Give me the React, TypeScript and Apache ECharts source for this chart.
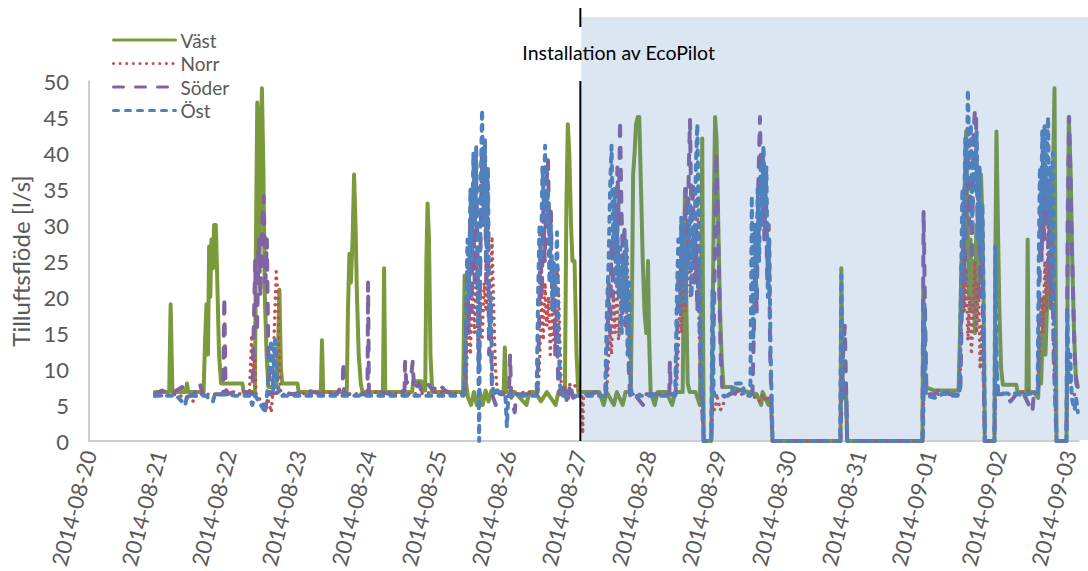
import React, { useEffect, useRef } from 'react';
import * as echarts from 'echarts';

// x values are hours since 2014-08-20 00:00
const dayLabels = [
  '2014-08-20', '2014-08-21', '2014-08-22', '2014-08-23', '2014-08-24',
  '2014-08-25', '2014-08-26', '2014-08-27', '2014-08-28', '2014-08-29',
  '2014-08-30', '2014-08-31', '2014-09-01', '2014-09-02', '2014-09-03',
];
const seriesNames = ['Väst', 'Norr', 'Söder', 'Öst'];
const INSTALL_HOUR = 168.5;
const X_MAX_HOUR = 339.5;
const annotationText = 'Installation av EcoPilot';
const yAxisTitle = 'Tilluftsflöde [l/s]';

const vast: [number, number][] = [
  [22.6,6.8],[27.5,6.8],[28,19],[28.6,6.8],[33.2,6.8],[33.6,8],[34,6.8],[39.3,6.8],[39.8,14],[40.3,19],[40.8,12],[41.2,27],[41.6,20],[42,28],[42.5,24],[42.9,30],[43.5,30],[44,22],[44.6,12],[45.3,8],[52.6,8],[53,6.8],
  [56.9,6.8],[57.3,30],[57.7,47],[58.1,44],[58.5,25],[58.9,40],[59.3,49],[59.8,38],[60.3,20],[60.9,12],[61.5,7.5],[64.2,7.5],[64.8,12],[65.3,21],[65.8,10],[66.3,8],[71.5,8],[71.9,6.8],
  [79.5,6.8],[79.9,14],[80.3,6.8],[88.4,6.8],[88.8,18],[89.3,26],[89.8,22],[90.4,28],[90.9,37],[91.4,30],[91.9,20],[92.5,12],[93.2,8],[93.8,6.8],[100.8,6.8],[101.2,24],[101.6,6.8],
  [110.8,6.8],[111.2,8.3],[114,8.3],[114.4,7],[115.3,7],[115.7,25],[116.1,33],[116.6,28],[117.1,12],[117.7,6.8],[123,6.8],[128.3,6.8],[128.8,23],[129.3,8],[130,6],[131,5],[132,6.8],[133,5],[134,6.8],[135,5],[136,7],[137,5.5],[138,7],[140,6.8],
  [142.2,6.8],[142.6,13],[143,6.8],[146,6.8],[150,5],[151,6.8],[153,6.8],[155,5.5],[157,6.8],[160,5],[161,6.8],[163.2,6.8],[163.7,32],[164.2,44],[164.7,40],[165.3,30],[165.8,25],[166.5,25],[167.2,12],[167.8,6.8],
  [172,6.8],[175,6.8],[176.5,5],[177.5,6.8],[180,5],[181,6.8],[183,5],[184,6.8],[185.8,6.8],[186.2,20],[186.6,37],[187.1,40],[187.6,44],[188.2,45],[188.7,45],[189.3,35],[189.9,25],[190.5,18],[191.1,15],[191.7,25],[192.1,14],[192.6,6.8],[194,5],[195,6.8],
  [198,6.8],[200,5],[201,6.8],[203.6,6.8],[204,25],[204.4,35],[204.8,20],[205.3,8],[206,6.8],[208,6.8],[209.5,5],[209.9,20],[210.3,42],[210.6,15],[210.8,0],[213.4,0],[213.7,10],[214.2,30],[214.7,45],[215.2,42],[215.8,30],[216.4,18],[217,11],[217.6,7.5],
  [220,7.5],[224,7],[226,6.8],[229,6.5],[230.5,5],[231,6.8],[233,5],[233.8,6],[234.4,0],[257.7,0],[258,24],[258.5,7],[259.6,7],[260,0],[285.8,0],[286.1,21],[286.6,7.5],[290,7],[295,7],
  [298.2,7],[298.7,15],[299.2,25],[299.7,18],[300.3,35],[300.8,43],[301.3,30],[301.8,20],[302.3,28],[302.8,18],[303.3,25],[303.8,15],[304.3,30],[304.8,20],[305.4,28],[305.9,37],[306.4,30],[306.9,15],[307.2,0],[310.5,0],[310.8,25],[311.2,43],[311.7,30],[312.2,18],[312.8,10],[313.4,7.8],
  [318,7.8],[318.4,6.8],[321.5,6.8],[321.9,28],[322.3,7],[324,6.8],[325.5,6],[326,15],[326.5,8],[327.5,20],[328,12],[329,25],[329.8,20],[330.5,35],[331.1,49],[331.5,20],[331.8,0],[335.2,0],[335.5,15],[336,45],[336.6,38],[337.2,25],[337.8,15],[338.4,9],[339.1,7.5],
];

const norr: [number, number][] = [
  [22.6,6.2],[30,6.5],[36,5.5],[37,6.5],[45,6.5],[48,7],[52,6.5],[55,6.5],[55.8,14.7],[56.3,8],[56.8,12],[57.3,6.5],[60,5],[60.6,4],[61.2,6],[62.5,4],[63,6.5],[63.5,15],[64.2,23.5],[64.8,20],[65.3,10],[65.8,6.5],
  [70,6.5],[80,6.8],[90,6.5],[100,6.8],[110,6.5],[120,6.8],[128.8,6.5],[129.5,10],[130.2,18],[130.8,12],[131.5,22],[132.2,15],[132.8,25],[133.5,12],[134.2,20],[134.8,14],[135.5,22],[136.2,18],[136.8,24],[137.5,15],[138.2,28.4],[138.8,18],[139.4,10],[140,7],[141,6.8],
  [145,6.5],[150,6.8],[154,6.5],[154.6,12],[155.2,20],[155.8,14],[156.4,22],[157,16],[157.6,20],[158.2,12],[158.8,18],[159.4,14],[160,21],[160.8,24],[161.4,15],[162,7],[163,7.5],[166,8],[168,7],[169,6.5],[169.3,1],[169.6,6.5],
  [176,6.5],[177.5,6.5],[178,10],[178.6,15],[179.2,12],[179.8,20],[180.4,15],[181,22],[181.6,14],[182.2,18],[182.8,25],[183.4,20],[184,24],[184.5,27],[185,18],[185.5,10],[186,6.5],[195,6.5],
  [201.4,6.5],[202,12],[202.6,20],[203.2,15],[203.8,24],[204.4,18],[205,22],[205.6,28],[206.2,20],[206.8,25],[207.4,30],[208,22],[208.5,34],[209,20],[209.6,10],[210.2,6],[210.8,0],[213.4,0],[213.8,5],[214.5,4.3],[215.5,6],[216.5,4.3],[217.5,5],[218,6.5],
  [225,6.5],[229,6],[230,5.5],[231,6.5],[232,5.5],[233,6],[234,5],[234.4,0],[257.7,0],[258.1,8],[259,6],[259.8,6],[260,0],[286,0],[286.4,10],[286.9,6.5],[295,6.5],
  [298.6,6.5],[299.1,15],[299.7,27.6],[300.2,18],[300.8,24],[301.4,14],[302,20],[302.6,12],[303.2,18],[303.8,25],[304.4,15],[305,22],[305.6,10],[306.2,16],[306.8,8],[307.2,0],[310.5,0],[310.9,8],[311.5,6.5],
  [318,6.5],[322,7],[325.5,6.5],[326,12],[326.6,20],[327.2,15],[327.8,25],[328.4,18],[329,32.5],[329.6,20],[330.2,26],[330.8,12],[331.3,6],[331.8,0],[335.2,0],[335.6,8],[336.2,9],[337,7],[338,6.4],[339.1,6.5],
];

const soder: [number, number][] = [
  [22.6,6.5],[25,7],[28,6.5],[32,7.5],[33,6],[36,6.5],[38,8],[39,6.5],[46,6.5],[46.4,20],[46.8,8],[47.2,6.5],[52,7],[56,6.5],[57,25],[57.6,15],[58.2,28],[58.8,20],[59.4,30],[59.9,34],[60.5,22],[61,28],[61.5,12],[62,6.5],
  [66,6.8],[70,6.5],[75,7],[80,6.5],[85,6.5],[87,8],[87.2,11],[87.5,6.5],[91,6.5],[95.5,6.5],[95.7,22],[96,6.5],[100,6.8],[104,6.5],[108.2,7],[108.4,11],[108.8,8],[110.5,9],[111,11],[111.5,7],[113,8],[114,7],[116,8],[118,7],[120,8],[122,7],[125,6.5],
  [128.7,6.5],[129.2,12],[129.7,25],[130.2,15],[130.7,30],[131.2,18],[131.7,35],[132.2,22],[132.7,38],[133.2,28],[133.7,10],[134.2,25],[134.7,40],[135.2,30],[135.7,41],[136.2,22],[136.7,35],[137.2,12],[137.7,18],[138.2,6.5],[139.5,5],[140,7],[141,6.5],
  [144,6.5],[144.4,12],[144.8,6],[146,4],[146.5,6.5],[150,6.5],[153.8,6.5],[154.3,15],[154.8,28],[155.3,20],[155.8,33],[156.3,25],[156.8,35],[157.4,39],[157.9,28],[158.4,32],[158.9,18],[159.4,24],[159.9,12],[160.4,18],[160.9,8],[161.5,6.5],[163,8],[164,5],[165,8],[166,6],[168,6.5],
  [172,6.5],[176,7],[177.2,6.5],[177.7,12],[178.2,22],[178.7,15],[179.2,28],[179.7,20],[180.2,33],[180.7,25],[181.2,38],[181.7,30],[182.1,44.6],[182.6,32],[183.1,25],[183.6,30],[184.1,16],[184.6,22],[185.1,10],[185.6,6],[187,6.5],[190,5],[191,6.5],[196,6.5],
  [199,6.5],[199.2,11],[199.5,6.5],[201.2,6.5],[201.7,15],[202.2,25],[202.7,18],[203.2,30],[203.7,22],[204.2,28],[204.7,35],[205.2,25],[205.7,38],[206.1,44.6],[206.6,30],[207.1,36],[207.6,22],[208.1,30],[208.6,18],[209.1,25],[209.6,10],[210.1,6],[210.8,0],[213.4,0],
  [214,10],[214.6,25],[215.1,40],[215.6,32],[216.1,22],[216.6,12],[217.2,7],[220,6.5],[223,7],[226,6.5],[227.5,6.5],[228,15],[228.5,25],[229,18],[229.5,35],[230.1,45],[230.6,33],[231.1,40],[231.6,28],[232.1,36],[232.6,22],[233.1,30],[233.6,12],[234,6],[234.4,0],
  [257.7,0],[258.3,10],[259.2,16],[259.7,6],[260,0],[285.8,0],[286.2,32],[286.7,18],[287.2,6.5],[290,6.5],[292,7.5],[295,6.5],
  [298.8,6.5],[299.3,18],[299.8,30],[300.3,22],[300.8,38],[301.3,40],[301.8,30],[302.3,36],[302.8,25],[303.3,42],[303.8,46],[304.2,45],[304.7,30],[305.2,38],[305.7,20],[306.2,28],[306.7,12],[307.2,0],[310.5,0],[310.9,15],[311.4,6.5],
  [314,6.5],[316,5.5],[318,6.5],[320,7],[323.5,4],[324,6.5],[325.5,6.5],[325.9,20],[326.3,32],[326.7,25],[327.1,38],[327.5,28],[327.9,42],[328.3,30],[328.7,36],[329.1,22],[329.5,33],[329.9,18],[330.3,28],[330.8,12],[331.3,6],[331.8,0],
  [335.2,0],[335.6,30],[336.1,45],[336.5,38],[337,28],[337.5,20],[338,12],[338.6,8],[339.1,7],
];

const ost: [number, number][] = [
  [22.6,6.3],[30,6.3],[33,5],[33.6,6.3],[40,6.3],[42.5,5.5],[43,6.3],[46,6.5],[50,6.3],[55,6.3],[56,5],[57,6.3],[60.5,4],[61,6.3],[61.8,10],[62.5,14],[63.2,7],[63.8,14],[64.5,9],[65.2,6.3],
  [70,6.3],[80,6.3],[90,6.3],[100,6.3],[110,6.3],[120,6.3],[128.5,6.3],[129.3,15],[129.8,28],[130.3,20],[130.8,35],[131.3,25],[131.8,40],[132.3,30],[132.8,41],[133.3,20],[133.8,0],[134.3,35],[134.8,46],[135.3,30],[135.8,42],[136.3,25],[136.8,38],[137.3,15],[137.8,20],[138.3,8],[139,6.3],[140,7],
  [142.8,6.3],[143.3,2],[143.8,6.3],[150,6.3],[153.5,6.3],[154,20],[154.5,30],[155,25],[155.5,38],[156,33],[156.4,41],[156.9,30],[157.4,35],[157.9,22],[158.4,30],[158.9,18],[159.4,25],[159.9,20],[160.5,29],[161,15],[161.5,8],[162,6.3],[168,6.3],
  [170,6.3],[177,6.3],[177.6,18],[178.2,25],[178.7,35],[179.2,41],[179.7,28],[180.2,35],[180.7,22],[181.2,30],[181.7,20],[182.2,27],[182.7,15],[183.2,25],[183.7,18],[184.2,28],[184.7,12],[185.2,22],[185.7,8],[186.2,6.3],[195,6.3],
  [201,6.3],[201.6,20],[202.1,28],[202.6,18],[203.1,31],[203.6,22],[204.1,30],[204.6,19],[205.1,27],[205.6,24],[206.1,33],[206.6,20],[207.1,30],[207.6,26],[208.1,38],[208.6,44],[209.1,30],[209.6,20],[210.1,8],[210.5,6],[210.8,0],[213.4,0],[213.8,21],[214.2,7],[214.6,6.3],
  [220.5,6.3],[220.8,8],[224.3,8],[224.6,6.3],[226.8,6.3],[227.3,34],[227.8,14],[228.3,30],[228.8,20],[229.3,35],[229.8,25],[230.3,38],[230.8,30],[231.3,41],[231.8,33],[232.3,38],[232.8,20],[233.3,28],[233.7,13],[234.1,6],[234.4,0],
  [257.6,0],[258,23],[258.6,6],[259.7,6],[260,0],[286,0],[286.5,19],[287,6.3],[290,6],[293,6.6],[296,6.3],
  [298.5,6.3],[299,20],[299.5,35],[300,28],[300.5,42],[301,36],[301.4,48.8],[301.9,38],[302.4,44],[302.9,30],[303.4,40],[303.9,35],[304.4,43],[304.9,28],[305.4,38],[305.9,25],[306.4,33],[306.9,15],[307.2,0],[310.5,0],[310.8,27],[311.3,10],[311.8,6.6],
  [318,6.6],[320,6.3],[323,6.6],[325.3,6.6],[325.7,25],[326.1,38],[326.5,30],[326.9,43],[327.3,35],[327.7,44],[328.1,32],[328.5,40],[328.9,45],[329.3,30],[329.7,38],[330.1,25],[330.5,40],[330.9,20],[331.3,10],[331.8,0],
  [335.2,0],[335.5,18],[336,8],[336.5,12],[337,6],[338,4.3],[338.5,6],[339.1,4],
];

const seriesData = [vast, norr, soder, ost];
const seriesColors = ['#7a9a3c', '#c0504d', '#8064a2', '#4f81bd'];
const seriesDash: number[][] = [[], [0.1, 6.5], [10, 12], [5, 7]];
const seriesWidth = [4, 3.5, 4, 4];

const FONT = 'Lato, "Noto Sans", sans-serif';

export default function App() {
  const ref = useRef<HTMLDivElement>(null);
  useEffect(() => {
    const chart = echarts.init(ref.current!, null, { renderer: 'svg' });
    const option: any = {
      animation: false,
      textStyle: { fontFamily: FONT },
      grid: { left: 89, right: 9, top: 81, bottom: 130, outerBoundsMode: 'none' },
      legend: {
        orient: 'vertical',
        left: 107,
        top: 25,
        itemWidth: 62,
        itemHeight: 14,
        itemGap: 3.5,
        data: seriesNames,
        lineStyle: { width: 3 },
        itemStyle: { opacity: 0, color: 'transparent', borderWidth: 0 },
        textStyle: { fontSize: 19, color: '#595959', lineHeight: 20, fontFamily: FONT },
      },
      xAxis: {
        type: 'value',
        min: 0,
        max: X_MAX_HOUR,
        interval: 24,
        axisLine: { show: true, lineStyle: { color: '#bfbfbf', width: 1.5 } },
        axisTick: { show: false },
        splitLine: { show: false },
        axisLabel: {
          rotate: 75,
          margin: 10,
          fontSize: 22,
          color: '#595959',
          fontFamily: FONT,
          showMaxLabel: false,
          formatter: (v: number) => {
            const d = Math.round(v / 24);
            return Math.abs(v - d * 24) < 1e-6 && dayLabels[d] ? dayLabels[d] : '';
          },
        },
      },
      yAxis: {
        type: 'value',
        min: 0,
        max: 50,
        interval: 5,
        name: yAxisTitle,
        nameLocation: 'middle',
        nameGap: 51,
        nameTextStyle: { fontSize: 24, color: '#595959', fontFamily: FONT },
        axisLine: { show: true, lineStyle: { color: '#bfbfbf', width: 1.5 } },
        axisTick: { show: false },
        splitLine: { show: false },
        axisLabel: { fontSize: 22, color: '#595959', margin: 20, fontFamily: FONT },
      },
      series: seriesNames.map((name, i) => ({
        name,
        type: 'line',
        data: seriesData[i],
        symbol: 'none',
        z: 2 + i,
        color: seriesColors[i],
        lineStyle: {
          color: seriesColors[i],
          width: seriesWidth[i],
          type: seriesDash[i].length ? seriesDash[i] : 'solid',
          cap: 'round',
          join: 'round',
        },
      })),
    };
    chart.setOption(option);

    const px = chart.convertToPixel({ xAxisIndex: 0 }, INSTALL_HOUR) as number;
    const yTop = chart.convertToPixel({ yAxisIndex: 0 }, 50) as number;
    const yBottom = chart.convertToPixel({ yAxisIndex: 0 }, 0) as number;
    const W = chart.getWidth();

    chart.setOption({
      graphic: [
        {
          type: 'rect',
          silent: true,
          z: 100,
          shape: { x: px + 1, y: 17, width: W - px - 1, height: yBottom - 17 - 1 },
          style: { fill: 'rgba(79,129,189,0.2)' },
        },
        {
          type: 'line',
          silent: true,
          z: 101,
          shape: { x1: px, y1: 8, x2: px, y2: 27 },
          style: { stroke: '#000', lineWidth: 2 },
        },
        {
          type: 'line',
          silent: true,
          z: 101,
          shape: { x1: px, y1: yTop, x2: px, y2: yBottom },
          style: { stroke: '#000', lineWidth: 2 },
        },
        {
          type: 'text',
          silent: true,
          z: 102,
          x: px - 58,
          y: 52,
          style: {
            text: annotationText,
            fontSize: 19.5,
            fontFamily: FONT,
            fill: '#000',
            verticalAlign: 'middle',
            align: 'left',
          },
        },
      ],
    });

    return () => chart.dispose();
  }, []);
  return (
    <div
      ref={ref}
      style={{ position: 'absolute', left: 0, top: 0, width: 1088, height: 571 }}
    />
  );
}
